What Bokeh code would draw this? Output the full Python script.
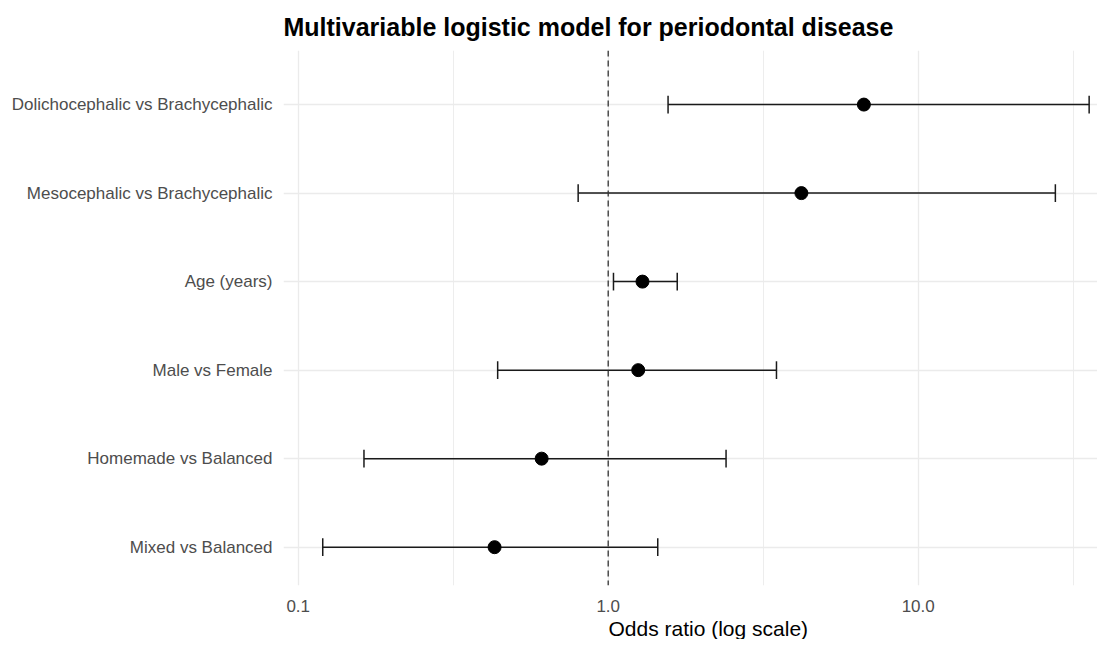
from bokeh.plotting import figure
from bokeh.models import Range1d, FixedTicker, PrintfTickFormatter, Span, Title, ColumnDataSource
from bokeh.embed import file_html
from bokeh.resources import INLINE

# ---- data (top to bottom) ----
labels = [
    "Dolichocephalic vs Brachycephalic",
    "Mesocephalic vs Brachycephalic",
    "Age (years)",
    "Male vs Female",
    "Homemade vs Balanced",
    "Mixed vs Balanced",
]
odds_ratio = [6.68, 4.20, 1.29, 1.25, 0.61, 0.43]
ci_low = [1.56, 0.80, 1.04, 0.44, 0.163, 0.12]
ci_high = [35.6, 27.7, 1.67, 3.49, 2.40, 1.445]

x_tick_values = [0.1, 1.0, 10.0]
x_minor_values = [0.0316, 0.316, 3.16, 31.6]

FONT = "Liberation Sans"

n = len(labels)
ypos = list(range(n, 0, -1))
cap = 0.1
src = ColumnDataSource(dict(
    y=ypos, odds=odds_ratio, lo=ci_low, hi=ci_high,
    ylo=[y - cap for y in ypos], yhi=[y + cap for y in ypos],
))

p = figure(
    width=1097, height=639,
    x_axis_type="log",
    x_range=Range1d(10 ** -1.0474, 10 ** 1.5784),
    y_range=Range1d(0.567, 6.611),
    output_backend="svg", toolbar_location=None,
    min_border_left=283, min_border_right=0,
    min_border_top=50, min_border_bottom=51,
)
p.outline_line_color = None
p.background_fill_color = "white"
p.border_fill_color = "white"

p.title.text = "Multivariable logistic model for periodontal disease"
p.title.align = "left"
p.title.text_font = FONT
p.title.text_font_size = "25px"
p.title.text_font_style = "bold"
p.title.text_color = "black"
p.title.standoff = 20

# axes
for ax in (p.xaxis, p.yaxis):
    ax.axis_line_color = None
    ax.major_tick_line_color = None
    ax.minor_tick_line_color = None
    ax.major_label_text_font = FONT
    ax.major_label_text_font_size = "17px"
    ax.major_label_text_color = "#4D4D4D"

p.xaxis.ticker = FixedTicker(ticks=x_tick_values, minor_ticks=x_minor_values)
p.xaxis.formatter = PrintfTickFormatter(format="%.1f")
p.xaxis.major_label_standoff = 8

p.yaxis.ticker = FixedTicker(ticks=ypos)
p.yaxis.major_label_overrides = {y: lab for y, lab in zip(ypos, labels)}
p.yaxis.major_label_standoff = 5

# grids
p.xgrid.grid_line_color = "#EBEBEB"
p.xgrid.grid_line_width = 1.3
p.xgrid.minor_grid_line_color = "#EBEBEB"
p.xgrid.minor_grid_line_width = 0.9
p.ygrid.grid_line_color = "#EBEBEB"
p.ygrid.grid_line_width = 1.3

# x axis title
p.add_layout(Title(text="Odds ratio (log scale)", align="left", offset=325,
                   text_font=FONT, text_font_size="21px", text_font_style="normal",
                   text_color="black", standoff=0), "below")

# reference line at OR = 1
p.add_layout(Span(location=1.0, dimension="height", line_color="#333333",
                  line_width=1.3, line_dash="6 4"))

# error bars
p.segment(x0="lo", y0="y", x1="hi", y1="y", source=src, line_color="#1a1a1a", line_width=1.5)
p.segment(x0="lo", y0="ylo", x1="lo", y1="yhi", source=src, line_color="#1a1a1a", line_width=1.5)
p.segment(x0="hi", y0="ylo", x1="hi", y1="yhi", source=src, line_color="#1a1a1a", line_width=1.5)

# points
p.scatter(x="odds", y="y", source=src, size=13, color="black")

open("out.html", "w").write(file_html(p, INLINE))
